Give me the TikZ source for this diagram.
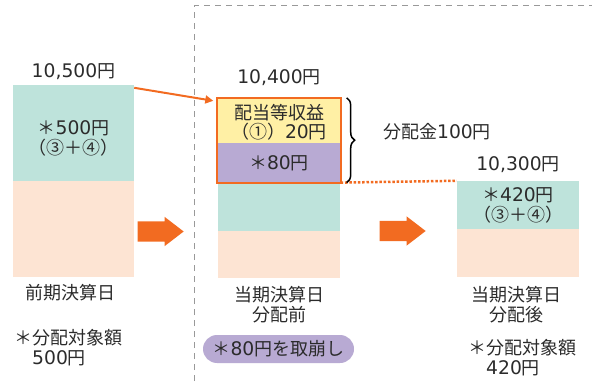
\documentclass[tikz,border=0pt]{standalone}
\usepackage{fontspec}
\setmainfont{Noto Sans CJK JP}
\newfontfamily\numfont[Scale=1.04]{DejaVu Sans}
\newcommand{\numf}[1]{{\numfont #1}}
\usetikzlibrary{shapes,arrows.meta,positioning,decorations.pathreplacing}
\definecolor{bteal}{HTML}{BEE3DB}
\definecolor{bpeach}{HTML}{FDE4D3}
\definecolor{byellow}{HTML}{FFF0A5}
\definecolor{bpurple}{HTML}{B8AAD3}
\definecolor{borange}{HTML}{F26B21}
\definecolor{btext}{HTML}{2B2B2B}

\begin{document}
\begin{tikzpicture}[x=1pt,y=1pt]
\tikzstyle{every node}=[text=btext, font=\fontsize{18}{20}\selectfont, inner sep=0pt, align=center]
\tikzstyle{bar}=[rectangle, minimum width=122pt]
\tikzstyle{bigarrow}=[single arrow, fill=borange, inner sep=10pt, minimum height=46pt,
	single arrow head extend=4.5pt, single arrow tip angle=75, anchor=tip]
\useasboundingbox (0,0) rectangle (592,381);
% dashed frame
\draw[gray!80, line width=1pt, dash pattern=on 6pt off 5pt] (194,0) -- (194,375) -- (592,375);

% previous term
\node[bar, fill=bteal, minimum width=121pt, minimum height=96pt] (prevtop) at (73.5,248) {};
\node[bar, fill=bpeach, minimum width=121pt, minimum height=96pt, below=0pt of prevtop] (prevbase) {};
\node[yshift=-5pt] (prevnote) at (prevtop) {＊\numf{500}円\\（③＋④）};
\node[above=5pt of prevtop] (prevval) {\numf{10,500}円};

% this term, before
\node[bar, fill=byellow, minimum width=123pt, minimum height=45pt] (divinc) at (279,260.5) {};
\node[bar, fill=bpurple, minimum width=123pt, minimum height=39pt, below=0pt of divinc] (divcap) {＊\numf{80}円};
\node[bar, fill=bteal, minimum height=48pt, below=0pt of divcap] (beftop) {};
\node[bar, fill=bpeach, minimum height=47pt, below=0pt of beftop] (befbase) {};
\node[yshift=-2pt, font=\fontsize{18}{19}\selectfont] (incnote) at (divinc) {配当等収益\\（①）\numf{20}円};
\draw[borange, line width=2pt] (divinc.north west) rectangle (divcap.south east);
\node[above=12pt of divinc] (befval) {\numf{10,400}円};

% this term, after
\node[bar, fill=bteal, minimum height=48pt] (afttop) at (518,176) {＊\numf{420}円\\（③＋④）};
\node[bar, fill=bpeach, minimum height=48pt, below=0pt of afttop] (aftbase) {};
\node[above=8pt of afttop] (aftval) {\numf{10,300}円};

% connectors
\draw[borange, line width=2pt, -{Triangle[length=8pt,width=8pt]}]
	([yshift=-3pt]prevtop.north east) -- ([xshift=-4pt,yshift=-3pt]divinc.north west);
\draw[borange, line width=2.5pt, dash pattern=on 2.5pt off 1.8pt]
	(divcap.south east) -- (afttop.north west);
\draw[line width=1.5pt, decorate, decoration={brace, amplitude=8pt}]
	([xshift=6pt]divinc.north east) -- ([xshift=6pt]divcap.south east);
\node (dividend) at (437,249) {分配金\numf{100}円};
\node[bigarrow] (arrA) at (184,149.5) {};
\node[bigarrow] (arrB) at (426,150) {};

% captions
\node (prevday) at (70,88) {前期決算日};
\node (befday) at (279,76) {当期決算日\\分配前};
\node (aftday) at (516,76) {当期決算日\\分配後};
\node[anchor=west, align=left] (prevamt) at (14,33) {＊分配対象額\\\phantom{＊}\numf{500}円};
\node[anchor=west, align=left] (aftamt) at (468,23) {＊分配対象額\\\phantom{＊}\numf{420}円};
\node[fill=bpurple, rounded corners=14pt, minimum width=151pt, minimum height=28pt] (capout) at (278.5,32) {＊\numf{80}円を取崩し};
\end{tikzpicture}
\end{document}
